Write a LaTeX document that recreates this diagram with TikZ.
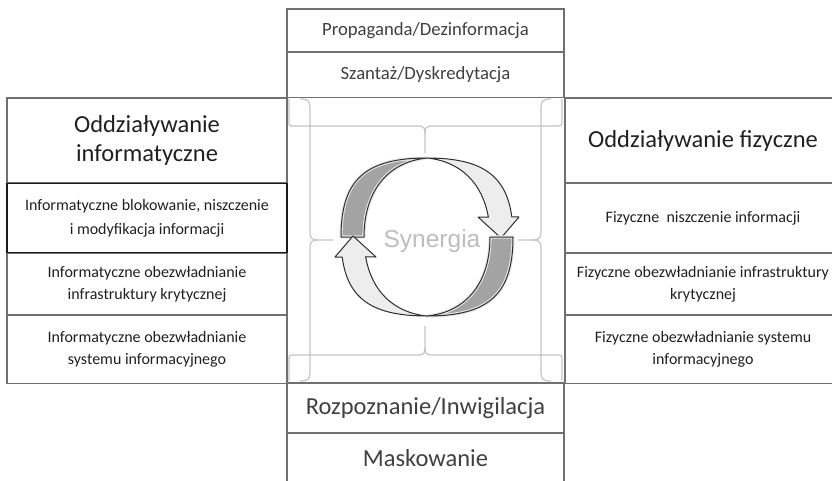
\documentclass[tikz,border=0pt]{standalone}
\usepackage{fontspec}
\setmainfont{Carlito}
\newfontfamily\arialfont{Liberation Sans}
\definecolor{boxgray}{HTML}{707070}
\definecolor{boxdark}{HTML}{1A1A1A}
\definecolor{txtdark}{HTML}{202020}
\definecolor{txtmid}{HTML}{404040}
\definecolor{bracegray}{HTML}{C4C4C4}
\definecolor{arrdark}{HTML}{A3A3A3}
\definecolor{arrhigh}{HTML}{E6E6E6}
\definecolor{arrlight}{HTML}{EDEDED}
\definecolor{arredge}{HTML}{2E2E2E}
\definecolor{syngray}{HTML}{BDBDBD}
\begin{document}
\begin{tikzpicture}[x=1pt,y=-1pt,
  cell/.style={draw=boxgray, line width=1.3pt, inner sep=0pt, outer sep=0pt,
    align=center, text=txtmid},
  sidecell/.style={cell, minimum width=280pt},
  midcell/.style={cell, minimum width=277pt},
  titlefont/.style={font=\fontsize{24.5}{29}\selectfont, text=txtdark},
  bigfont/.style={font=\fontsize{24.5}{27}\selectfont},
  medfont/.style={font=\fontsize{18.7}{22}\selectfont},
  smallfont/.style={font=\fontsize{16}{22}\selectfont, text=txtdark},
  widesmall/.style={font=\fontsize{16}{24}\selectfont, text=txtdark},
  bracepath/.style={draw=bracegray, line width=1.2pt},
  arrowpart/.style={draw=arredge, line width=1pt, line join=round}
]
\useasboundingbox (0,0) rectangle (832,480);
\clip (0,0) rectangle (832,480);

% centre column, top
\node[midcell, medfont, minimum height=43pt] (prop) at (425.5,30.5) {Propaganda/Dezinformacja};
\node[midcell, medfont, minimum height=45pt] (szan) at (425.5,75) {Szantaż/Dyskredytacja};

% centre column, bottom
\node[midcell, bigfont, minimum height=50pt] (rozp) at (425.5,408) {Rozpoznanie/Inwigilacja};
\node[midcell, bigfont, minimum height=50pt] (mask) at (425.5,458) {Maskowanie};

% left column
\node[sidecell, titlefont, minimum height=85pt] (linfo) at (147,140.5) {Oddziaływanie\\informatyczne};
\node[sidecell, smallfont, minimum height=62pt] (linf2) at (147,284) {Informatyczne obezwładnianie\\infrastruktury krytycznej};
\node[sidecell, smallfont, minimum height=69pt] (linf3) at (147,349) {Informatyczne obezwładnianie\\systemu informacyjnego};
\node[sidecell, widesmall, minimum height=69pt, draw=boxdark] (linf1) at (147,218) {Informatyczne blokowanie, niszczenie\\i modyfikacja informacji};

% right column
\node[sidecell, titlefont, minimum width=276pt, minimum height=85pt] (rfiz) at (703,140.5) {Oddziaływanie fizyczne};
\node[sidecell, smallfont, minimum width=276pt, minimum height=69pt] (rfiz1) at (703,218) {Fizyczne\ \ niszczenie informacji};
\node[sidecell, smallfont, minimum width=276pt, minimum height=62pt] (rfiz2) at (703,284) {Fizyczne obezwładnianie infrastruktury\\krytycznej};
\node[sidecell, smallfont, minimum width=276pt, minimum height=69pt] (rfiz3) at (703,349) {Fizyczne obezwładnianie systemu\\informacyjnego};

% four braces framing the centre
% top
\path[bracepath] (289,99) -- (289,120) .. controls (289,126) .. (295,126) -- (418,126)
  .. controls (424,126) and (425,128) .. (425,134) -- (425,153);
\path[bracepath] (562,99) -- (562,120) .. controls (562,126) .. (556,126) -- (432,126)
  .. controls (426,126) and (425,128) .. (425,134);
% bottom
\path[bracepath] (289,381) -- (289,361) .. controls (289,355) .. (295,355) -- (418,355)
  .. controls (424,355) and (425,353) .. (425,347) -- (425,326);
\path[bracepath] (562,381) -- (562,361) .. controls (562,355) .. (556,355) -- (432,355)
  .. controls (426,355) and (425,353) .. (425,347);
% left
\path[bracepath] (300,99) .. controls (308,99) and (310,101) .. (310,107) -- (310,232)
  .. controls (310,238) and (312,240) .. (318,240) -- (333,240);
\path[bracepath] (300,381) .. controls (308,381) and (310,379) .. (310,373) -- (310,248)
  .. controls (310,242) and (312,240) .. (318,240);
% right
\path[bracepath] (551,99) .. controls (543,99) and (541,101) .. (541,107) -- (541,232)
  .. controls (541,238) and (539,240) .. (533,240) -- (518,240);
\path[bracepath] (551,381) .. controls (543,381) and (541,379) .. (541,373) -- (541,248)
  .. controls (541,242) and (539,240) .. (533,240);

% twisted circular arrows: a ribbon showing its dark back on the rising
% half and its light front, ending in a head, on the falling half
\tikzset{
  twistarrow/.pic={
    \path[fill=arrdark, draw=arrhigh, line width=3.2pt, line join=round]
      (-86,0) .. controls (-86,57) and (-62,79) .. (0,79)
      .. controls (-40,75) and (-63,45) .. (-63,0) -- cycle;
    \path[arrowpart]
      (-86,0) .. controls (-86,57) and (-62,79) .. (0,79)
      .. controls (-40,75) and (-63,45) .. (-63,0) -- cycle;
    \path[arrowpart, fill=arrlight]
      (0,79) .. controls (54.06,79) and (79.24,62.27) .. (84.79,20.2)
      -- (92,20) -- (74,-1) -- (51,20) -- (61.37,19.8)
      .. controls (55.47,53.68) and (33.8,75.62) .. (0,79) -- cycle;
  }
}
\begin{scope}[shift={(427,237)}, y=1pt]
  \pic (upper) {twistarrow};
  \pic[rotate=180] (lower) {twistarrow};
\end{scope}

\node[font=\arialfont\fontsize{24.5}{28}\selectfont, text=syngray, inner sep=0pt] (syn) at (432,241) {Synergia};
\end{tikzpicture}
\end{document}
